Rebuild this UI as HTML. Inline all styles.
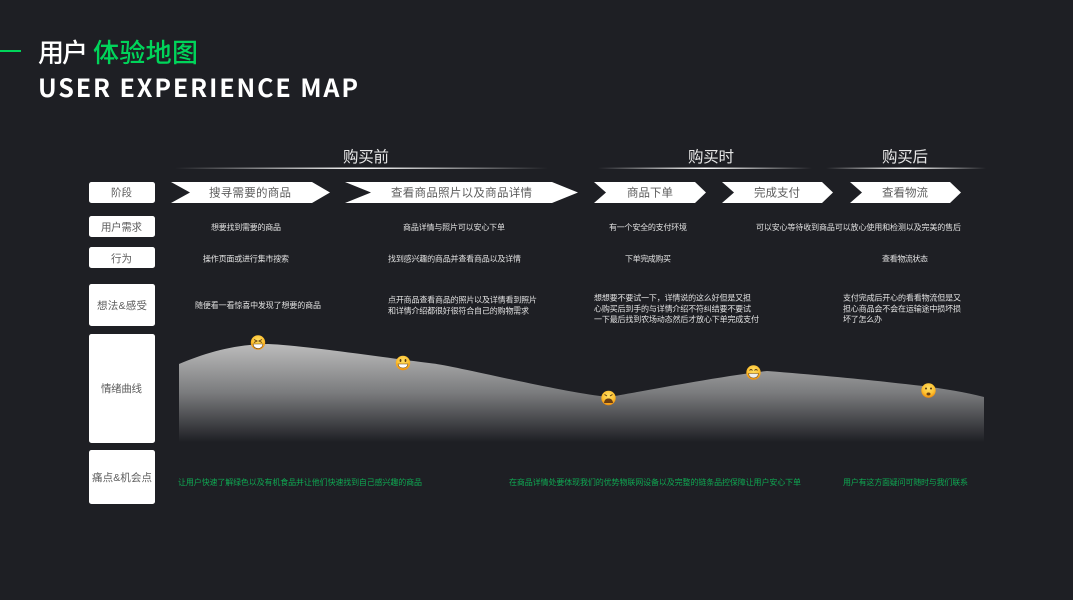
<!DOCTYPE html>
<html lang="zh">
<head>
<meta charset="utf-8">
<title>用户体验地图</title>
<style>
html,body{margin:0;padding:0;background:#1e1f24;width:1073px;height:600px;overflow:hidden}
svg{display:block}
text{font-family:"Liberation Sans","Noto Sans CJK SC",sans-serif}
.cjk{font-family:"Noto Sans CJK SC","Liberation Sans",sans-serif}
.s{font-size:8px;fill:#e2e2e2}
.g{font-size:8px;fill:#0fa852}
.l{font-size:10.5px;fill:#5c5c5c}
.c{font-size:11.5px;fill:#5c5c5c}
.h{font-size:15.5px;fill:#e8e8e8}
</style>
</head>
<body>
<svg width="1073" height="600" viewBox="0 0 1073 600" xmlns="http://www.w3.org/2000/svg">
<defs>
<linearGradient id="area" gradientUnits="userSpaceOnUse" x1="0" y1="344" x2="0" y2="442">
<stop offset="0" stop-color="#bcbcbc"/>
<stop offset="0.5" stop-color="#7a7b7d"/>
<stop offset="1" stop-color="#1e1f24"/>
</linearGradient>
<linearGradient id="ln" x1="0" y1="0" x2="1" y2="0">
<stop offset="0" stop-color="#fff" stop-opacity="0"/>
<stop offset="0.5" stop-color="#fff" stop-opacity="1"/>
<stop offset="1" stop-color="#fff" stop-opacity="0"/>
</linearGradient>
<radialGradient id="em" cx="50%" cy="35%" r="65%">
<stop offset="0" stop-color="#ffe066"/>
<stop offset="0.65" stop-color="#fdc02f"/>
<stop offset="1" stop-color="#f08c0a"/>
</radialGradient>
</defs>
<rect width="1073" height="600" fill="#1e1f24"/>

<!-- Title -->
<rect x="0" y="50" width="21" height="2" fill="#00d45a"/>
<text class="cjk" x="38" y="62" font-size="26" font-weight="500" fill="#fff" textLength="50">用户</text>
<text class="cjk" x="93" y="62" font-size="26" font-weight="500" fill="#00d45a" textLength="105">体验地图</text>
<text class="cjk" x="38" y="97" font-size="25" font-weight="700" fill="#fff" textLength="320">USER EXPERIENCE MAP</text>

<!-- Phase headers -->
<text class="h" x="343" y="162" textLength="46">购买前</text>
<text class="h" x="688" y="162" textLength="46">购买时</text>
<text class="h" x="882" y="162" textLength="46">购买后</text>
<rect x="175" y="167.500" width="373" height="1.500" fill="url(#ln)"/>
<rect x="598" y="167.500" width="214" height="1.500" fill="url(#ln)"/>
<rect x="826" y="167.500" width="160" height="1.500" fill="url(#ln)"/>

<!-- Left labels -->
<g fill="#fff">
<rect x="89" y="182" width="66" height="21" rx="2.500"/>
<rect x="89" y="216" width="66" height="21" rx="2.500"/>
<rect x="89" y="247" width="66" height="21" rx="2.500"/>
<rect x="89" y="284" width="66" height="42" rx="2.500"/>
<rect x="89" y="334" width="66" height="109" rx="2.500"/>
<rect x="89" y="450" width="66" height="54" rx="2.500"/>
</g>
<text class="l" x="111" y="196" textLength="21">阶段</text>
<text class="l" x="101" y="230.500" textLength="41">用户需求</text>
<text class="l" x="111" y="262" textLength="21">行为</text>
<text class="l" x="97" y="309" textLength="50">想法&amp;感受</text>
<text class="l" x="101" y="392" textLength="41">情绪曲线</text>
<text class="l" x="92" y="481" textLength="60">痛点&amp;机会点</text>

<!-- Chevrons -->
<g fill="#fff">
<polygon points="171,182 312,182 330,192.500 312,203 171,203 190,192.500"/>
<polygon points="345,182 552,182 578,192.500 552,203 345,203 371,192.500"/>
<polygon points="594,182 695,182 706,192.500 695,203 594,203 606,192.500"/>
<polygon points="722,182 822,182 833,192.500 822,203 722,203 734,192.500"/>
<polygon points="850,182 950,182 961,192.500 950,203 850,203 862,192.500"/>
</g>
<text class="c" x="209" y="196.500" textLength="82">搜寻需要的商品</text>
<text class="c" x="391" y="196.500" textLength="141">查看商品照片以及商品详情</text>
<text class="c" x="627" y="196.500" textLength="46">商品下单</text>
<text class="c" x="754" y="196.500" textLength="46">完成支付</text>
<text class="c" x="882" y="196.500" textLength="46">查看物流</text>

<!-- User needs -->
<text class="s" x="211" y="230" textLength="70">想要找到需要的商品</text>
<text class="s" x="403" y="230" textLength="102">商品详情与照片可以安心下单</text>
<text class="s" x="609" y="230" textLength="78">有一个安全的支付环境</text>
<text class="s" x="756" y="230" textLength="205">可以安心等待收到商品可以放心使用和检测以及完美的售后</text>

<!-- Behaviour -->
<text class="s" x="203" y="261.500" textLength="86">操作页面或进行集市搜索</text>
<text class="s" x="388" y="261.500" textLength="133">找到感兴趣的商品并查看商品以及详情</text>
<text class="s" x="625" y="261.500" textLength="46">下单完成购买</text>
<text class="s" x="882" y="261.500" textLength="46">查看物流状态</text>

<!-- Thoughts -->
<text class="s" x="195" y="308" textLength="126">随便看一看惊喜中发现了想要的商品</text>
<text class="s" x="388" y="302.500" textLength="149">点开商品查看商品的照片以及详情看到照片</text>
<text class="s" x="388" y="313.500" textLength="141">和详情介绍都很好很符合自己的购物需求</text>
<text class="s" x="594" y="300.500" textLength="157">想想要不要试一下，详情说的这么好但是又担</text>
<text class="s" x="594" y="311.500" textLength="157">心购买后到手的与详情介绍不符纠结要不要试</text>
<text class="s" x="594" y="322" textLength="165">一下最后找到农场动态然后才放心下单完成支付</text>
<text class="s" x="843" y="300.500" textLength="118">支付完成后开心的看看物流但是又</text>
<text class="s" x="843" y="311.500" textLength="118">担心商品会不会在运输途中损坏损</text>
<text class="s" x="843" y="322" textLength="39">坏了怎么办</text>

<!-- Emotion curve -->
<path d="M179,364 C205,353 235,344 268,344 C300,345 380,357 433,363.500 C455,366 560,392 608,397 C640,392 720,376 767,371 C830,376 880,381 923,386 C945,389 965,392 984,397 L984,442 L179,442 Z" fill="url(#area)"/>

<!-- Emojis -->
<g>
<circle cx="258" cy="342.500" r="7.200" fill="url(#em)"/>
<path d="M254,339.500l3,1.500l-3,1.500M262,339.500l-3,1.500l3,1.500" stroke="#5a3a10" stroke-width=".9" fill="none"/>
<path d="M253,344h10c-.5,3.500-2.500,4.500-5,4.500s-4.500,-1-5,-4.500z" fill="#fff" stroke="#6b4510" stroke-width=".6"/>

<circle cx="403" cy="363" r="7.200" fill="url(#em)"/>
<ellipse cx="400.500" cy="360.500" rx=".9" ry="1.500" fill="#5a3a10"/>
<ellipse cx="405.500" cy="360.500" rx=".9" ry="1.500" fill="#5a3a10"/>
<path d="M398,364h10c-.5,3-2.500,4-5,4s-4.500,-1-5,-4z" fill="#fff" stroke="#6b4510" stroke-width=".6"/>

<circle cx="608.500" cy="398" r="7.200" fill="url(#em)"/>
<path d="M604.500,394.500l2.500,1.500M612.500,394.500l-2.500,1.500" stroke="#5a3a10" stroke-width="1" fill="none"/>
<path d="M604,403c.5,-3.500 2,-4.500 4.500,-4.500s4,1 4.500,4.500z" fill="#6b3f12"/>

<circle cx="753.500" cy="372.500" r="7.200" fill="url(#em)"/>
<path d="M749.500,370.500q1.500,-2 3,0M754.500,370.500q1.500,-2 3,0" stroke="#5a3a10" stroke-width=".9" fill="none"/>
<path d="M748.500,373.500h10c-.5,3.500-2.500,4.500-5,4.500s-4.500,-1-5,-4.500z" fill="#eee" stroke="#6b4510" stroke-width=".6"/>

<circle cx="928.500" cy="390.500" r="7.200" fill="url(#em)"/>
<circle cx="926" cy="388.500" r="1" fill="#5a3a10"/>
<circle cx="931" cy="388.500" r="1" fill="#5a3a10"/>
<ellipse cx="928.500" cy="394" rx="2" ry="1.500" fill="#6b3f12"/>
</g>

<!-- Pain points -->
<text class="g" x="178" y="485" textLength="244">让用户快速了解绿色以及有机食品并让他们快速找到自己感兴趣的商品</text>
<text class="g" x="509" y="485" textLength="292">在商品详情处要体现我们的优势物联网设备以及完整的链条品控保障让用户安心下单</text>
<text class="g" x="843" y="485" textLength="125">用户有这方面疑问可随时与我们联系</text>
</svg>
</body>
</html>
